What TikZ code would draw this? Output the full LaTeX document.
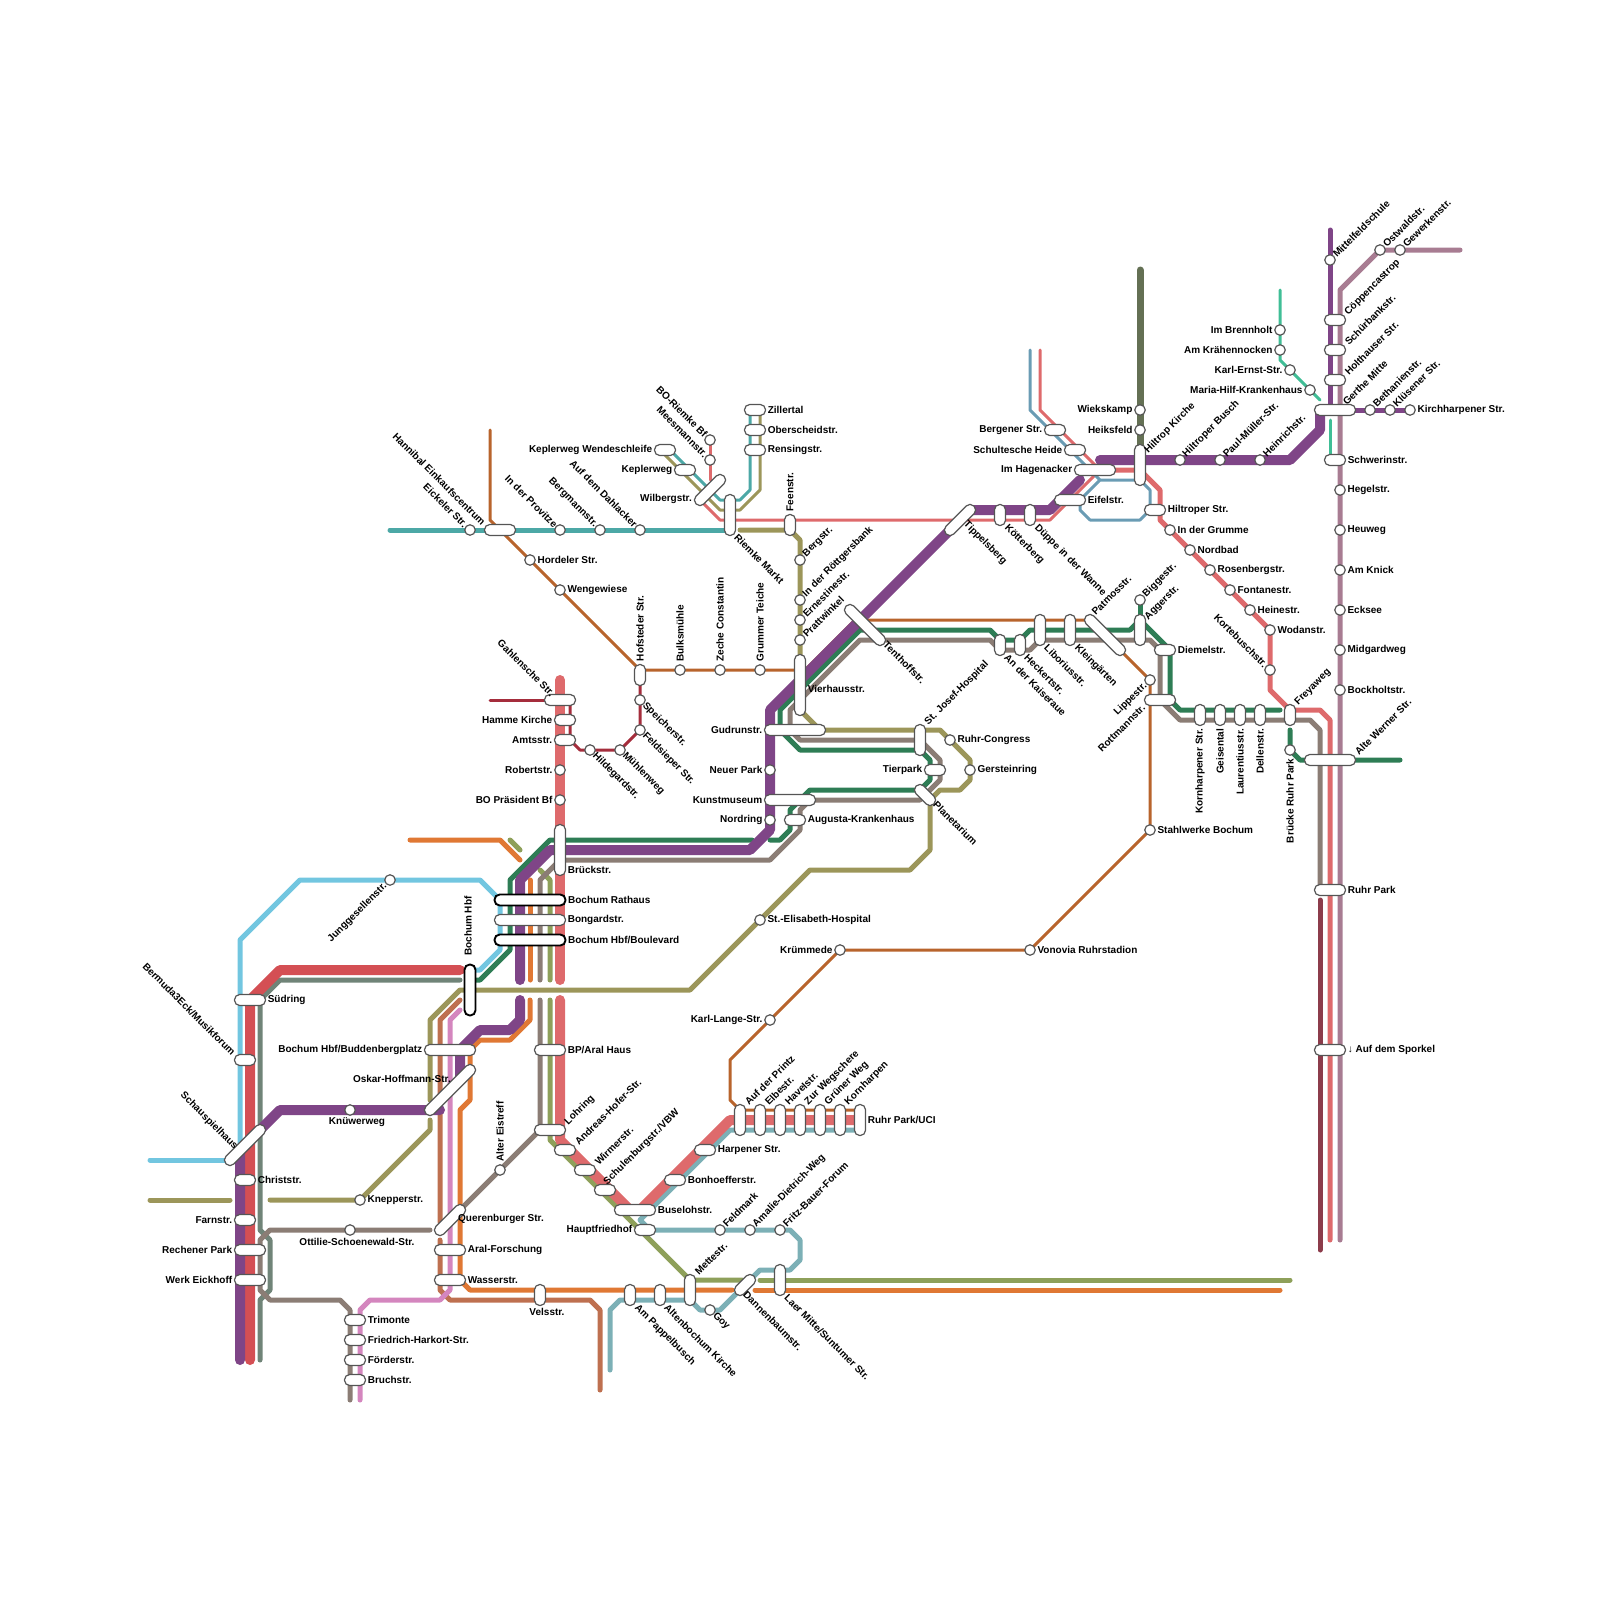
\documentclass[tikz,border=0pt]{standalone}
\usepackage{fontspec}
\setmainfont{Liberation Sans}
\usepackage{xcolor}
\definecolor{purp}{HTML}{7F4587}
\definecolor{salm}{HTML}{DE6A6C}
\definecolor{red1}{HTML}{D44F54}
\definecolor{grn}{HTML}{2E7D55}
\definecolor{tau}{HTML}{8B7D75}
\definecolor{oliv}{HTML}{9C965A}
\definecolor{olgr}{HTML}{8EA05A}
\definecolor{sky}{HTML}{72C6E0}
\definecolor{oran}{HTML}{E07834}
\definecolor{terra}{HTML}{BE7050}
\definecolor{pink1}{HTML}{D486BE}
\definecolor{slate}{HTML}{708478}
\definecolor{teal1}{HTML}{4CA8A6}
\definecolor{bgrey}{HTML}{7CB0B6}
\definecolor{steel}{HTML}{6A9CB4}
\definecolor{darkol}{HTML}{647054}
\definecolor{mint}{HTML}{40BE96}
\definecolor{burg}{HTML}{A52D3C}
\definecolor{dkred}{HTML}{8C3C4B}
\definecolor{mauve}{HTML}{A87C92}
\definecolor{rust}{HTML}{B8642C}
\definecolor{pillg}{HTML}{555555}
\begin{document}
\begin{tikzpicture}[x=1pt,y=-1pt,
  ln/.style={line width=5pt,line cap=round,line join=round},
  thk/.style={line width=10pt,line cap=round,line join=round},
  thn/.style={line width=3pt,line cap=round,line join=round},
  stn/.style={circle,draw=pillg,fill=white,line width=1.2pt,minimum size=10.5pt,inner sep=0pt},
  pill/.style={rectangle,draw=pillg,fill=white,line width=1.2pt,rounded corners=5.2pt,inner sep=0pt},
  blk/.style={pill,draw=black,line width=1.9pt},
  lb/.style={font=\fontsize{10}{12}\selectfont\bfseries,inner sep=0pt},
  lr/.style={lb,anchor=west,xshift=1.5pt},
  ll/.style={lb,anchor=east,xshift=-1.5pt},
  lu/.style={lb,rotate=45,anchor=west,xshift=0.5pt},
  ld/.style={lb,rotate=-45,anchor=west},
  lul/.style={lb,rotate=-45,anchor=east},
  ldl/.style={lb,rotate=45,anchor=east,xshift=-0.5pt},
  lvu/.style={lb,rotate=90,anchor=west,xshift=2.5pt},
  lvd/.style={lb,rotate=90,anchor=east,xshift=-2.5pt},
  lbelow/.style={lb,anchor=north,xshift=7pt,yshift=-2pt},
  lgahl/.style={xshift=-7pt,yshift=-1pt,lul},
  lbrueck/.style={lr,yshift=6pt},
  lhbf/.style={xshift=-2pt,yshift=5pt,lvu},
  lvier/.style={lr,yshift=-4pt},
  lagger/.style={yshift=-5pt,lu},
  lhilt/.style={yshift=-8pt,lu},
  lgerth/.style={xshift=9pt,lu}]
\useasboundingbox (0,0) rectangle (1600,1600);
% thin lines
\draw[thn,rust] (490,430)--(490,520)--(640,670)--(805,670)--(855,620)--(1090,620)--(1150,680)--(1150,830)--(1030,950)--(840,950)--(730,1060)--(730,1100)--(740,1110)--(860,1110);
\draw[thn,burg] (490,700)--(550,700);
\draw[thn,burg] (570,700)--(570,740)--(580,750)--(620,750)--(640,730)--(640,680);
\draw[thn,teal1] (750,410)--(750,490)--(740,500)--(720,500)--(670,450);
\draw[thn,oliv] (760,410)--(760,490)--(740,510)--(720,510)--(660,450);
\draw[thn,salm] (710,440)--(710,480);
\draw[thn,salm] (700,500)--(720,520)--(1050,520)--(1100,470);
\draw[thn,salm] (1040,350)--(1040,410)--(1100,470);
\draw[thn,steel] (1030,350)--(1030,410)--(1100,480)--(1140,480)--(1150,490)--(1150,510)--(1140,520)--(1090,520)--(1080,510)--(1080,500)--(1100,480);
\draw[thn,mint] (1280,290)--(1280,360)--(1320,400);
\draw[thn,mint] (1330,420)--(1330,460);
% normal lines
\draw[ln,teal1] (390,530)--(730,530);
\draw[ln,sky] (470,970)--(480,970)--(500,950)--(500,900)--(480,880)--(300,880)--(240,940)--(240,1150);
\draw[ln,sky] (150,1160)--(230,1160);
\draw[ln,slate] (460,980)--(280,980)--(260,1000)--(260,1230)--(270,1240)--(270,1290)--(260,1300)--(260,1360);
\draw[ln,tau] (430,1230)--(270,1230)--(260,1240)--(260,1290)--(270,1300)--(340,1300)--(350,1310)--(350,1400);
\draw[ln,oliv] (740,530)--(790,530)--(800,540)--(800,710)--(820,730)--(940,730)--(970,760)--(970,780)--(960,790)--(940,790)--(930,800)--(930,850)--(910,870)--(810,870)--(690,990)--(460,990)--(430,1020)--(430,1100);
\draw[ln,oliv] (430,1120)--(430,1130)--(360,1200)--(270,1200);
\draw[ln,oliv] (150,1200)--(230,1200);
\draw[ln,terra] (460,1000)--(440,1020)--(440,1222);
\draw[ln,terra] (440,1240)--(440,1290)--(450,1300)--(590,1300)--(600,1310)--(600,1390);
\draw[ln,pink1] (460,1010)--(450,1020)--(450,1290)--(440,1300)--(370,1300)--(360,1310)--(360,1400);
\draw[ln,oran] (410,840)--(500,840)--(520,860);
\draw[ln,oran] (530,880)--(530,980);
\draw[ln,oran] (530,1000)--(530,1020)--(510,1040)--(480,1040)--(470,1050)--(470,1100)--(460,1110)--(460,1280)--(470,1290)--(732,1290);
\draw[ln,oran] (755,1290)--(1280,1290);
\draw[ln,olgr] (510,840)--(520,850);
\draw[ln,olgr] (540,870)--(550,880)--(550,980);
\draw[ln,olgr] (550,1000)--(550,1140)--(690,1280)--(742,1280);
\draw[ln,olgr] (760,1280)--(1290,1280);
\draw[ln,tau] (540,980)--(540,880)--(560,860)--(770,860)--(800,830)--(800,810)--(810,800)--(920,800)--(940,780)--(940,760)--(920,740)--(800,740)--(790,730)--(790,710)--(860,640)--(990,640)--(1000,650)--(1030,650)--(1040,640)--(1150,640)--(1160,650)--(1160,700)--(1180,720)--(1310,720)--(1320,730)--(1320,890);
\draw[ln,tau] (540,1000)--(540,1130)--(460,1210);
\draw[ln,grn] (470,980)--(480,980)--(510,950)--(510,880)--(550,840)--(752,840);
\draw[ln,grn] (770,840)--(780,840)--(790,830)--(790,810)--(810,790)--(920,790)--(930,780)--(930,760)--(920,750)--(800,750)--(780,730)--(780,710)--(860,630)--(990,630)--(1000,640)--(1020,640)--(1030,630)--(1130,630)--(1140,620)--(1170,650)--(1170,700)--(1180,710)--(1280,710);
\draw[ln,grn] (1140,600)--(1140,620);
\draw[ln,grn] (1290,730)--(1290,750)--(1300,760)--(1400,760);
\draw[ln,bgrey] (860,1130)--(730,1130)--(640,1220)--(650,1230)--(790,1230)--(800,1240)--(800,1260)--(790,1270)--(760,1270)--(720,1310)--(700,1310)--(690,1300)--(620,1300)--(610,1310)--(610,1370);
\draw[ln,dkred] (1320,900)--(1320,1250);
\draw[ln,mauve] (1460,250)--(1380,250)--(1340,290)--(1340,1240);
\draw[ln,purp] (1330,230)--(1330,410)--(1410,410);
\draw[ln,salm] (1100,470)--(1140,470)--(1160,490)--(1160,520)--(1270,630)--(1270,690)--(1290,710)--(1320,710)--(1330,720)--(1330,1240);
\draw[line width=7pt,line cap=round,darkol] (1140,270)--(1140,460);
% thick lines
\draw[thk,red1] (460,970)--(280,970)--(250,1000)--(250,1360);
\draw[thk,purp] (440,1110)--(280,1110)--(240,1150)--(240,1360);
\draw[thk,purp] (520,980)--(520,880)--(550,850)--(750,850)--(770,830)--(770,710)--(970,510)--(1050,510)--(1080,480);
\draw[thk,purp] (520,1000)--(520,1020)--(510,1030)--(480,1030)--(460,1050)--(460,1078);
\draw[thk,purp] (1100,460)--(1290,460)--(1320,430)--(1320,410);
\draw[thk,salm] (560,680)--(560,980);
\draw[thk,salm] (560,1000)--(560,1140)--(630,1210);
\draw[thk,salm] (640,1210)--(730,1120)--(860,1120);
% single stops
\foreach \n/\x/\y/\k/\anc/\lab in {
  eickeler/470/530/lul/north west/Eickeler Str.,
  provitze/560/530/lul/north west/In der Provitze,
  bergmann/600/530/lul/north west/Bergmannstr.,
  dahlacker/640/530/lul/north west/Auf dem Dahlacker,
  hordeler/530/560/lr/east/Hordeler Str.,
  wengewiese/560/590/lr/east/Wengewiese,
  bulks/680/670/lvu/north/Bulksmühle,
  zeche/720/670/lvu/north/Zeche Constantin,
  grummer/760/670/lvu/north/Grummer Teiche,
  speicher/640/700/ld/south east/Speicherstr.,
  feldsieper/640/730/ld/south east/Feldsieper Str.,
  muehlen/620/750/ld/south east/Mühlenweg,
  hildegard/590/750/ld/south east/Hildegardstr.,
  boriemke/710/440/lul/north west/BO-Riemke Bf,
  meesmann/710/460/lul/north west/Meesmannstr.,
  robert/560/770/ll/west/Robertstr.,
  praesident/560/800/ll/west/BO Präsident Bf,
  bergstr/800/560/lu/north east/Bergstr.,
  roettger/800/600/lu/north east/In der Röttgersbank,
  ernestine/800/620/lu/north east/Ernestinestr.,
  pratt/800/640/lu/north east/Prattwinkel,
  neuerpark/770/770/ll/west/Neuer Park,
  nordring/770/820/ll/west/Nordring,
  congress/950/740/lr/east/Ruhr-Congress,
  gerstein/970/770/lr/east/Gersteinring,
  elisabeth/760/920/lr/east/St.-Elisabeth-Hospital,
  kruemmede/840/950/ll/west/Krümmede,
  vonovia/1030/950/lr/east/Vonovia Ruhrstadion,
  karllange/770/1020/ll/west/Karl-Lange-Str.,
  stahlwerke/1150/830/lr/east/Stahlwerke Bochum,
  lippe/1150/680/ldl/south west/Lippestr.,
  junggesellen/390/880/ldl/south west/Junggesellenstr.,
  knuewer/350/1110/lbelow/south/Knüwerweg,
  ottilie/350/1230/lbelow/south/Ottilie-Schoenewald-Str.,
  knepper/360/1200/lr/east/Knepperstr.,
  eistreff/500/1170/lvu/north/Alter Eistreff,
  feldmark/720/1230/lu/north east/Feldmark,
  amalie/750/1230/lu/north east/Amalie-Dietrich-Weg,
  fritz/780/1230/lu/north east/Fritz-Bauer-Forum,
  goy/710/1310/ld/south east/Goy,
  wiekskamp/1140/410/ll/west/Wiekskamp,
  heiksfeld/1140/430/ll/west/Heiksfeld,
  hiltbusch/1180/460/lu/north east/Hiltroper Busch,
  paulmueller/1220/460/lu/north east/Paul-Müller-Str.,
  heinrich/1260/460/lu/north east/Heinrichstr.,
  grumme/1170/530/lr/east/In der Grumme,
  nordbad/1190/550/lr/east/Nordbad,
  rosenberg/1210/570/lr/east/Rosenbergstr.,
  fontane/1230/590/lr/east/Fontanestr.,
  heine/1250/610/lr/east/Heinestr.,
  wodan/1270/630/lr/east/Wodanstr.,
  korte/1270/670/lul/north west/Kortebuschstr.,
  bigge/1140/600/lu/north east/Biggestr.,
  brennholt/1280/330/ll/west/Im Brennholt,
  kraehen/1280/350/ll/west/Am Krähennocken,
  karlernst/1290/370/ll/west/Karl-Ernst-Str.,
  mariahilf/1310/390/ll/west/Maria-Hilf-Krankenhaus,
  mittelfeld/1330/260/lu/north east/Mittelfeldschule,
  ostwald/1380/250/lu/north east/Ostwaldstr.,
  gewerken/1400/250/lu/north east/Gewerkenstr.,
  bethanien/1370/410/lu/north east/Bethanienstr.,
  kluesener/1390/410/lu/north east/Klüsener Str.,
  kirchharpen/1410/410/lr/east/Kirchharpener Str.,
  hegel/1340/490/lr/east/Hegelstr.,
  heuweg/1340/530/lr/east/Heuweg,
  knick/1340/570/lr/east/Am Knick,
  ecksee/1340/610/lr/east/Ecksee,
  midgard/1340/650/lr/east/Midgardweg,
  bockholt/1340/690/lr/east/Bockholtstr.,
  bruecke/1290/750/lvd/south/Brücke Ruhr Park}
  {\node[stn](\n) at (\x,\y){}; \node[\k](\n-t) at (\n.\anc){\lab};}
% long stops, straight
\foreach \n/\x/\y/\w/\h/\s/\k/\anc/\lab in {
  hannibal/500/530/31/11/pill/lul/north west/Hannibal Einkaufscentrum,
  gahlensche/560/700/31/11/pill/lgahl/north/Gahlensche Str.,
  hamme/565/720/21/11/pill/ll/west/Hamme Kirche,
  amts/565/740/21/11/pill/ll/west/Amtsstr.,
  brueck/560/850/11/51/pill/lbrueck/south east/Brückstr.,
  rathaus/530/900/71/11/blk/lr/east/Bochum Rathaus,
  bongard/530/920/71/11/pill/lr/east/Bongardstr.,
  boulevard/530/940/71/11/blk/lr/east/{Bochum Hbf/Boulevard},
  bochumhbf/470/990/11/51/blk/lhbf/north/Bochum Hbf,
  bparal/550/1050/31/11/pill/lr/east/{BP/Aral Haus},
  lohring/550/1130/31/11/pill/lu/north east/Lohring,
  budden/450/1050/51/11/pill/ll/west/{Bochum Hbf/Buddenbergplatz},
  aralf/450/1250/31/11/pill/lr/east/Aral-Forschung,
  wasser/450/1280/31/11/pill/lr/east/Wasserstr.,
  suedring/250/1000/31/11/pill/lr/east/Südring,
  bermuda/245/1060/21/11/pill/lul/north west/{Bermuda3Eck/Musikforum},
  christ/245/1180/21/11/pill/lr/east/Christstr.,
  farn/245/1220/21/11/pill/ll/west/Farnstr.,
  rechener/250/1250/31/11/pill/ll/west/Rechener Park,
  eickhoff/250/1280/31/11/pill/ll/west/Werk Eickhoff,
  trimonte/355/1320/21/11/pill/lr/east/Trimonte,
  harkort/355/1340/21/11/pill/lr/east/Friedrich-Harkort-Str.,
  foerder/355/1360/21/11/pill/lr/east/Förderstr.,
  bruch/355/1380/21/11/pill/lr/east/Bruchstr.,
  vels/540/1295/11/21/pill/lbelow/south/Velsstr.,
  andreas/565/1150/21/11/pill/lu/north east/Andreas-Hofer-Str.,
  wirmer/585/1170/21/11/pill/lu/north east/Wirmerstr.,
  schulenburg/605/1190/21/11/pill/lu/north/{Schulenburgstr./VBW},
  buselohs/635/1210/41/11/pill/lr/east/Buselohstr.,
  hauptfried/645/1230/21/11/pill/ll/west/Hauptfriedhof,
  bonhoeffer/675/1180/21/11/pill/lr/east/Bonhoefferstr.,
  harpener/705/1150/21/11/pill/lr/east/Harpener Str.,
  printz/740/1120/11/31/pill/lu/north east/Auf der Printz,
  elbe/760/1120/11/31/pill/lu/north east/Elbestr.,
  havel/780/1120/11/31/pill/lu/north east/Havelstr.,
  wegschere/800/1120/11/31/pill/lu/north east/Zur Wegschere,
  gruener/820/1120/11/31/pill/lu/north east/Grüner Weg,
  kornharpen/840/1120/11/31/pill/lu/north east/Kornharpen,
  ruhruci/860/1120/11/31/pill/lr/east/{Ruhr Park/UCI},
  mette/690/1290/11/31/pill/lu/north east/Mettestr.,
  pappel/630/1295/11/21/pill/ld/south east/Am Pappelbusch,
  altenb/660/1295/11/21/pill/ld/south east/Altenbochum Kirche,
  laer/780/1280/11/31/pill/ld/south east/{Laer Mitte/Suntumer Str.},
  zillertal/755/410/21/11/pill/lr/east/Zillertal,
  oberscheid/755/430/21/11/pill/lr/east/Oberscheidstr.,
  rensing/755/450/21/11/pill/lr/east/Rensingstr.,
  wende/665/450/21/11/pill/ll/west/Keplerweg Wendeschleife,
  kepler/685/470/21/11/pill/ll/west/Keplerweg,
  riemke/730/515/11/41/pill/ld/south east/Riemke Markt,
  feen/790/525/11/21/pill/lvu/north/Feenstr.,
  hofsteder/640/675/11/21/pill/lvu/north/Hofsteder Str.,
  vierhaus/800/685/11/61/pill/lvier/east/Vierhausstr.,
  gudrun/795/730/61/11/pill/ll/west/Gudrunstr.,
  kunst/790/800/51/11/pill/ll/west/Kunstmuseum,
  augusta/795/820/21/11/pill/lr/east/Augusta-Krankenhaus,
  josef/920/740/11/31/pill/lu/north east/St. Josef-Hospital,
  tierpark/935/770/21/11/pill/ll/west/Tierpark,
  koetter/1000/515/11/21/pill/ld/south east/Kötterberg,
  dueppe/1030/515/11/21/pill/ld/south east/Düppe in der Wanne,
  kaiseraue/1000/645/11/21/pill/ld/south east/An der Kaiseraue,
  hecker/1020/645/11/21/pill/ld/south east/Heckertstr.,
  liborius/1040/630/11/31/pill/ld/south east/Liboriusstr.,
  kleing/1070/630/11/31/pill/ld/south east/Kleingärten,
  agger/1140/630/11/31/pill/lagger/north east/Aggerstr.,
  eifel/1070/500/31/11/pill/lr/east/Eifelstr.,
  hagen/1095/470/41/11/pill/ll/west/Im Hagenacker,
  schultes/1075/450/21/11/pill/ll/west/Schultesche Heide,
  bergener/1055/430/21/11/pill/ll/west/Bergener Str.,
  hiltkirche/1140/465/11/41/pill/lhilt/north east/Hiltrop Kirche,
  hiltroper/1155/510/21/11/pill/lr/east/Hiltroper Str.,
  diemel/1165/650/21/11/pill/lr/east/Diemelstr.,
  rottmann/1160/700/31/11/pill/ldl/south west/Rottmannstr.,
  coeppen/1335/320/21/11/pill/lu/north east/Cöppencastrop,
  schuerbank/1335/350/21/11/pill/lu/north east/Schürbankstr.,
  holthaus/1335/380/21/11/pill/lu/north east/Holthauser Str.,
  gerthe/1335/410/41/11/pill/lgerth/north/Gerthe Mitte,
  schwerin/1335/460/21/11/pill/lr/east/Schwerinstr.,
  kornstr/1200/715/11/21/pill/lvd/south/Kornharpener Str.,
  geisental/1220/715/11/21/pill/lvd/south/Geisental,
  laurenti/1240/715/11/21/pill/lvd/south/Laurentiusstr.,
  dellen/1260/715/11/21/pill/lvd/south/Dellenstr.,
  freya/1290/715/11/21/pill/lu/north east/Freyaweg,
  altewerner/1330/760/51/11/pill/lu/north east/Alte Werner Str.,
  ruhrpark/1330/890/31/11/pill/lr/east/Ruhr Park,
  sporkel/1330/1050/31/11/pill/lr/east/↓ Auf dem Sporkel}
  {\node[\s,minimum width=\w pt,minimum height=\h pt](\n) at (\x,\y){}; \node[\k](\n-t) at (\n.\anc){\lab};}
% long stops, slanted
\node[pill,minimum width=53.4pt,minimum height=11pt,rotate=45](schausp) at (245,1145){};
\node[lul](schausp-t) at (236,1148){Schauspielhaus};
\node[pill,minimum width=67.6pt,minimum height=11pt,rotate=45](oskar) at (450,1090){};
\node[lb,anchor=east](oskar-t) at (451,1079){Oskar-Hoffmann-Str.};
\node[pill,minimum width=39.3pt,minimum height=11pt,rotate=45](queren) at (450,1220){};
\node[lb,anchor=west](queren-t) at (458,1219){Querenburger Str.};
\node[pill,minimum width=39.3pt,minimum height=11pt,rotate=45](wilberg) at (710,490){};
\node[lb,anchor=east](wilberg-t) at (692,499){Wilbergstr.};
\node[pill,minimum width=39.3pt,minimum height=11pt,rotate=45](tippels) at (960,520){};
\node[ld](tippels-t) at (965,523){Tippelsberg};
\node[pill,minimum width=53.4pt,minimum height=11pt,rotate=-45](tenthoff) at (865,625){};
\node[ld](tenthoff-t) at (885,643){Tenthoffstr.};
\node[pill,minimum width=53.4pt,minimum height=11pt,rotate=-45](patmos) at (1105,635){};
\node[lu](patmos-t) at (1093,614){Patmosstr.};
\node[pill,minimum width=25.1pt,minimum height=11pt,rotate=-45](planet) at (925,795){};
\node[ld](planet-t) at (935,803){Planetarium};
\node[pill,minimum width=25.1pt,minimum height=11pt,rotate=45](dannen) at (745,1285){};
\node[ld](dannen-t) at (745,1293){Dannenbaumstr.};
\end{tikzpicture}
\end{document}
